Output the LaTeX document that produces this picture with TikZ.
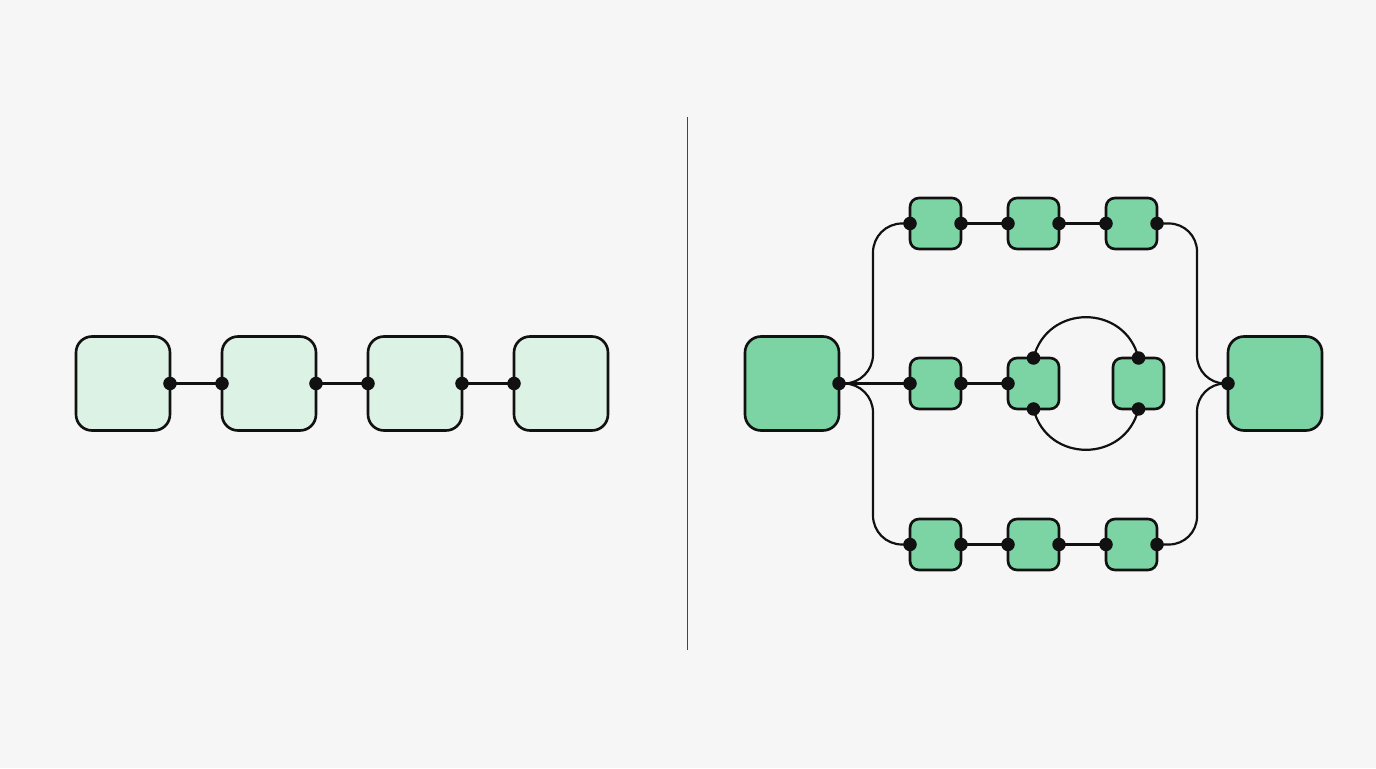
\documentclass[tikz,border=0pt]{standalone}
\usepackage{tikz}
\usetikzlibrary{positioning}

\definecolor{bgGray}{HTML}{F6F6F6}
\definecolor{paleMint}{HTML}{DCF2E5}
\definecolor{mintGreen}{HTML}{7CD3A4}
\definecolor{inkBlack}{HTML}{111111}
\definecolor{rulerGray}{HTML}{454545}

\tikzset{
  bigbox/.style={draw=inkBlack, line width=1.5pt, rounded corners=0.32cm,
    minimum size=1.88cm, inner sep=0pt, outer sep=0pt},
  smallbox/.style={draw=inkBlack, line width=1.5pt, rounded corners=0.18cm,
    minimum size=1.02cm, inner sep=0pt, outer sep=0pt, fill=mintGreen},
  wire/.style={draw=inkBlack, line width=1.25pt},
  pin/.style={fill=inkBlack},
  divider/.style={draw=rulerGray, line width=0.85pt}
}

\begin{document}
\begin{tikzpicture}[x=0.02cm, y=0.02cm]
  % Canvas
  \fill[bgGray] (0,0) rectangle (1376,768);
  \useasboundingbox (0,0) rectangle (1376,768);

  % Left: plain chain of four boxes
  \node[bigbox, fill=paleMint] (a1) at (123,384.5) {};
  \node[bigbox, fill=paleMint] (a2) at (269,384.5) {};
  \node[bigbox, fill=paleMint] (a3) at (415,384.5) {};
  \node[bigbox, fill=paleMint] (a4) at (561,384.5) {};

  \draw[wire] (a1.east) -- (a2.west);
  \draw[wire] (a2.east) -- (a3.west);
  \draw[wire] (a3.east) -- (a4.west);

  % Divider
  \coordinate (divTop) at (687.5,651);
  \coordinate (divBot) at (687.5,118);
  \draw[divider] (divTop) -- (divBot);

  % Right: in and out boxes
  \node[bigbox, fill=mintGreen] (bigL) at (792,384.5) {};
  \node[bigbox, fill=mintGreen] (bigR) at (1275,384.5) {};

  % Top row
  \node[smallbox] (t1) at (935.5,544.5) {};
  \node[smallbox] (t2) at (1033.5,544.5) {};
  \node[smallbox] (t3) at (1131.5,544.5) {};
  % Middle row
  \node[smallbox] (m1) at (935.5,384.5) {};
  \node[smallbox] (m2) at (1033.5,384.5) {};
  \node[smallbox] (m3) at (1138.5,384.5) {};
  % Bottom row
  \node[smallbox] (b1) at (935.5,223.5) {};
  \node[smallbox] (b2) at (1033.5,223.5) {};
  \node[smallbox] (b3) at (1131.5,223.5) {};

  % Bus lines
  \coordinate (busL) at (873,384.5);
  \coordinate (busR) at (1197,384.5);

  \draw[wire, rounded corners=0.58cm] (bigL.east) -- (busL) |- (t1.west);
  \draw[wire, rounded corners=0.58cm] (bigL.east) -- (busL) |- (b1.west);
  \draw[wire, rounded corners=0.56cm] (t3.east) -| (busR) -- (bigR.west);
  \draw[wire, rounded corners=0.56cm] (b3.east) -| (busR) -- (bigR.west);

  \draw[wire] (t1.east) -- (t2.west);
  \draw[wire] (t2.east) -- (t3.west);
  \draw[wire] (b1.east) -- (b2.west);
  \draw[wire] (b2.east) -- (b3.west);
  \draw[wire] (bigL.east) -- (m1.west);
  \draw[wire] (m1.east) -- (m2.west);

  % Loop between the middle boxes
  \draw[wire] (m2.north) to[out=76, in=104, looseness=1.37] (m3.north);
  \draw[wire] (m2.south) to[out=-76, in=-104, looseness=1.37] (m3.south);

  % Pins
  \foreach \n/\a in {a1/east, a2/west, a2/east, a3/west, a3/east, a4/west,
      bigL/east, bigR/west,
      t1/west, t1/east, t2/west, t2/east, t3/west, t3/east,
      b1/west, b1/east, b2/west, b2/east, b3/west, b3/east,
      m1/west, m1/east, m2/west, m2/north, m2/south, m3/north, m3/south}
    \fill[pin] (\n.\a) circle (0.135cm);
\end{tikzpicture}
\end{document}
